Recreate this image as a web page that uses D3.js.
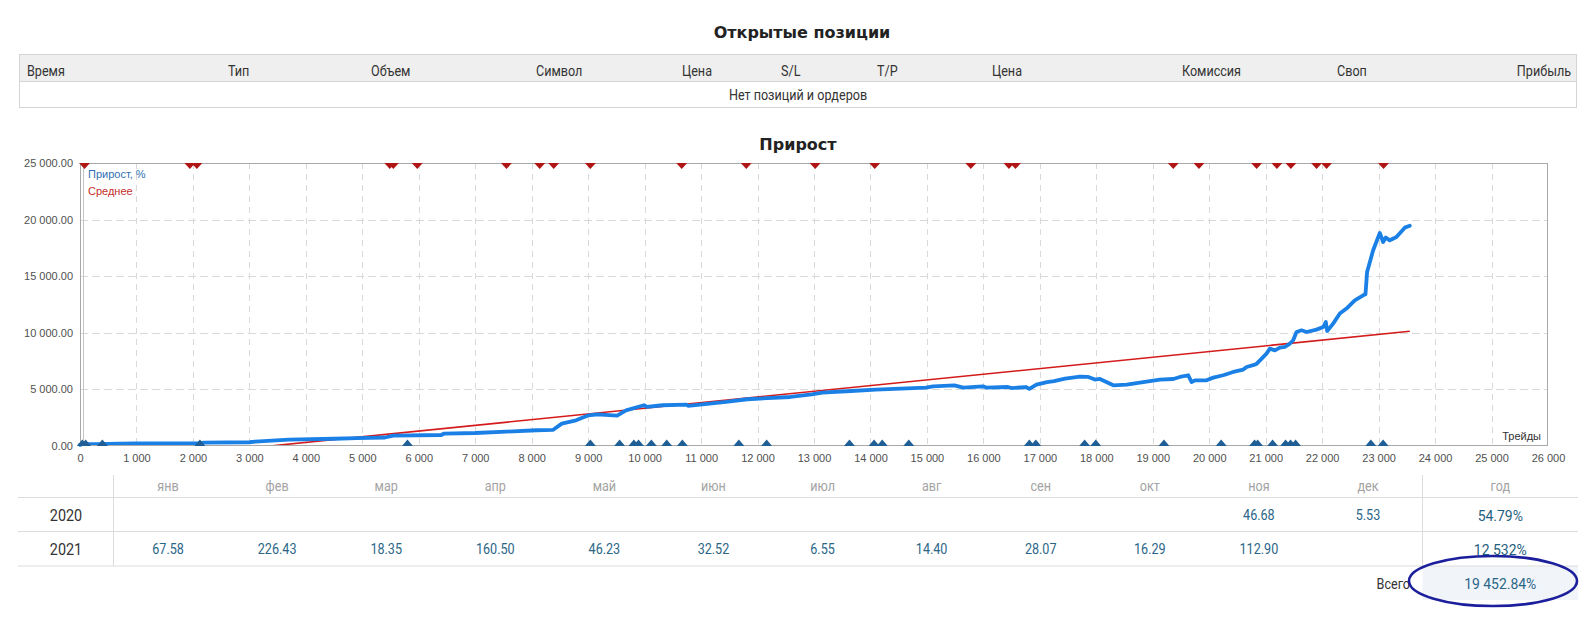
<!DOCTYPE html>
<html>
<head>
<meta charset="utf-8">
<script src="https://cdn.jsdelivr.net/npm/d3@7/dist/d3.min.js"></script>
<style>
  html, body { margin: 0; padding: 0; background: #fff; }
  svg { display: block; }
</style>
</head>
<body>
<svg id="page" width="1593" height="619"></svg>
<script>
// ---------------- DATA ----------------
const openTitle = "Открытые позиции";
const openHeaders = ["Время", "Тип", "Объем", "Символ", "Цена", "S/L", "T/P", "Цена", "Комиссия", "Своп", "Прибыль"];
const openEmpty = "Нет позиций и ордеров";

const chartTitle = "Прирост";
const seriesName = "Прирост, %";
const avgName = "Среднее";
const xAxisName = "Трейды";

const xTickValues = [0,1000,2000,3000,4000,5000,6000,7000,8000,9000,10000,11000,12000,13000,14000,15000,16000,17000,18000,19000,20000,21000,22000,23000,24000,25000,26000];
const yTickValues = [0, 5000, 10000, 15000, 20000, 25000];

const growthTrades = [0,40,300,700,1000,2100,2200,3000,3100,3700,4500,4900,5400,5550,6400,6450,7000,7550,8080,8375,8533,8786,9007,9163,9513,9671,9988,10040,10316,10745,10770,11441,11818,12579,12958,13145,13653,14096,14538,14981,15108,15487,15644,15993,16050,16435,16500,16751,16814,16940,17127,17253,17446,17711,17858,17977,18065,18301,18538,18773,19127,19363,19481,19628,19688,19747,19954,20071,20248,20425,20602,20662,20808,20838,21015,21074,21162,21251,21339,21428,21487,21546,21635,21723,21900,22018,22065,22089,22195,22313,22431,22578,22726,22767,22796,22903,23021,23080,23127,23198,23316,23463,23552];
const growthValues = [100,160,170,200,230,250,300,330,380,560,640,690,750,920,970,1100,1150,1270,1390,1420,1980,2270,2710,2800,2690,3150,3600,3450,3600,3660,3550,3890,4130,4330,4570,4720,4860,4980,5070,5160,5270,5360,5160,5270,5160,5210,5120,5210,5040,5420,5650,5740,5950,6120,6100,5870,5920,5360,5420,5600,5870,5920,6100,6250,5650,5800,5800,6040,6250,6540,6750,6980,7190,7250,8160,8600,8450,8690,8750,9050,9340,10070,10220,10070,10280,10510,10950,10160,10810,11700,12140,12870,13310,13400,15370,17290,18820,18020,18410,18170,18460,19290,19453];

const avgTrades = [0, 23552];
const avgValues = [-1690, 10130];

const withdrawTrades = [80,1946,2070,5487,5550,5973,7553,8142,8390,9039,10657,11800,13021,14076,15777,16453,16568,19363,19818,20839,21198,21446,21901,22078,23087];
const depositTrades = [40,100,396,2124,5800,9039,9557,9810,9892,10119,10391,10669,11669,12161,13628,14064,14209,14678,16814,16928,17793,17990,19198,20212,20803,20857,21122,21352,21440,21529,22862,23080];

const months = ["янв","фев","мар","апр","май","июн","июл","авг","сен","окт","ноя","дек"];
const yearLabel = "год";
const years = ["2020", "2021"];
const monthly2020 = [null,null,null,null,null,null,null,null,null,null,46.68,5.53];
const monthly2021 = [67.58,226.43,18.35,160.50,46.23,32.52,6.55,14.40,28.07,16.29,112.90,null];
const yearTotals = ["54.79%", "12 532%"];
const totalLabel = "Всего";
const totalValue = "19 452.84%";

// ---------------- DRAW ----------------
const svg = d3.select("#page");
const chartFont = "'Liberation Sans', Arial, sans-serif";
const tableFont = "Roboto, 'Noto Sans', sans-serif";
const titleFont = "'DejaVu Sans', Verdana, sans-serif";

function ntext(parent, x, y, str, anchor, size, fill, weight) {
  const g = parent.append("g").attr("transform", `translate(${x},${y}) scale(0.9,1)`);
  g.append("text")
    .attr("text-anchor", anchor)
    .attr("font-family", tableFont)
    .attr("font-size", size)
    .attr("font-weight", weight || "normal")
    .attr("fill", fill)
    .text(str);
  return g;
}

// ---- Open positions table ----
svg.append("text").attr("x", 802).attr("y", 38).attr("text-anchor", "middle")
  .attr("font-family", titleFont).attr("font-weight", "bold").attr("font-size", 16)
  .attr("fill", "#222").text(openTitle);

const tL = 19.5, tR = 1576.5, tTop = 54.5, tMid = 81.5, tBot = 107.5;
svg.append("rect").attr("x", tL).attr("y", tTop).attr("width", tR - tL).attr("height", tMid - tTop).attr("fill", "#efefef");
svg.append("rect").attr("x", tL).attr("y", tTop).attr("width", tR - tL).attr("height", tBot - tTop)
  .attr("fill", "none").attr("stroke", "#d4d4d4");
svg.append("line").attr("x1", tL).attr("x2", tR).attr("y1", tMid).attr("y2", tMid).attr("stroke", "#d4d4d4");

const headerX = [27, 228, 371, 536, 682, 781, 877, 992, 1182, 1337, 1571];
openHeaders.forEach((h, i) => {
  const anchor = i === openHeaders.length - 1 ? "end" : "start";
  ntext(svg, headerX[i], 76, h, anchor, 14, "#333");
});
ntext(svg, 798, 100, openEmpty, "middle", 14, "#333");

// ---- Growth chart ----
svg.append("text").attr("x", 798).attr("y", 150).attr("text-anchor", "middle")
  .attr("font-family", titleFont).attr("font-weight", "bold").attr("font-size", 16)
  .attr("fill", "#222").text(chartTitle);

const pL = 80, pR = 1548, pT = 163, pB = 446;
const x = d3.scaleLinear().domain([0, 26000]).range([pL, pR]);
const y = d3.scaleLinear().domain([0, 25000]).range([pB, pT]);

const chart = svg.append("g");
svg.append("defs").append("clipPath").attr("id", "plotclip")
  .append("rect").attr("x", pL).attr("y", pT).attr("width", pR - pL).attr("height", pB - pT);

// grid
chart.append("g").selectAll("line").data(xTickValues.slice(1, -1)).join("line")
  .attr("x1", d => Math.round(x(d)) + 0.5).attr("x2", d => Math.round(x(d)) + 0.5)
  .attr("y1", pT).attr("y2", pB)
  .attr("stroke", "#d9d9d9").attr("stroke-dasharray", "6,5");
chart.append("g").selectAll("line").data(yTickValues.slice(1, -1)).join("line")
  .attr("x1", pL).attr("x2", pR)
  .attr("y1", d => Math.round(y(d)) + 0.5).attr("y2", d => Math.round(y(d)) + 0.5)
  .attr("stroke", "#d9d9d9").attr("stroke-dasharray", "8,4");

// axes labels
const fmtInt = d3.format(",d");
const xAxis = d3.axisBottom(x).tickValues(xTickValues).tickSize(0).tickPadding(8)
  .tickFormat(d => fmtInt(d).replace(/,/g, " "));
const gx = chart.append("g").attr("transform", `translate(0,${pB})`).call(xAxis);
gx.select(".domain").remove();
gx.selectAll("text").attr("font-family", chartFont).attr("font-size", 11).attr("fill", "#505050");

const fmtY = d3.format(",.2f");
const yAxis = d3.axisLeft(y).tickValues(yTickValues).tickSize(0).tickPadding(7)
  .tickFormat(d => fmtY(d).replace(/,/g, " "));
const gy = chart.append("g").attr("transform", `translate(${pL},0)`).call(yAxis);
gy.select(".domain").remove();
gy.selectAll("text").attr("font-family", chartFont).attr("font-size", 11).attr("fill", "#505050");

// average line
const lineGen = d3.line().x(d => x(d[0])).y(d => y(d[1]));
chart.append("path")
  .datum(avgTrades.map((t, i) => [t, avgValues[i]]))
  .attr("clip-path", "url(#plotclip)")
  .attr("d", lineGen).attr("fill", "none").attr("stroke", "#d41a1a").attr("stroke-width", 1.6);

// growth line
chart.append("path")
  .datum(growthTrades.map((t, i) => [t, growthValues[i]]))
  .attr("d", lineGen).attr("fill", "none").attr("stroke", "#1a80e6")
  .attr("stroke-width", 3.8).attr("stroke-linejoin", "round").attr("stroke-linecap", "round");

// border
chart.append("rect").attr("x", pL + 0.5).attr("y", pT + 0.5).attr("width", pR - pL - 1).attr("height", pB - pT - 1)
  .attr("fill", "none").attr("stroke", "#a9a9a9");
chart.append("line").attr("x1", pL + 3.5).attr("x2", pL + 3.5).attr("y1", pT).attr("y2", pB)
  .attr("stroke", "#c4c4c4");

// markers
chart.append("g").selectAll("path").data(withdrawTrades).join("path")
  .attr("d", d => `M${x(d) - 5.5},${pT} L${x(d) + 5.5},${pT} L${x(d)},${pT + 6} Z`)
  .attr("fill", "#b01515");
chart.append("g").selectAll("path").data(depositTrades).join("path")
  .attr("d", d => `M${x(d) - 5.5},${pB} L${x(d) + 5.5},${pB} L${x(d)},${pB - 6.5} Z`)
  .attr("fill", "#1f5f96");

// legend
chart.append("text").attr("x", 88).attr("y", 178).attr("font-family", chartFont).attr("font-size", 11)
  .attr("fill", "#2f6fb3").text(seriesName);
chart.append("text").attr("x", 88).attr("y", 195).attr("font-family", chartFont).attr("font-size", 11)
  .attr("fill", "#c3302a").text(avgName);
chart.append("text").attr("x", 1541).attr("y", 440).attr("text-anchor", "end").attr("font-family", chartFont)
  .attr("font-size", 11).attr("fill", "#333").text(xAxisName);

// ---- Monthly table ----
const mL = 18, mR = 1578, sep1 = 113.5, sep2 = 1422.5;
const rowTop = 475, rowLines = [497.5, 531.5, 566];
const col = d3.scaleBand().domain(months).range([sep1, sep2]);
const tbl = svg.append("g");

tbl.append("rect").attr("x", sep2).attr("y", rowLines[2]).attr("width", mR - sep2).attr("height", 34).attr("fill", "#f1f4f9");
rowLines.forEach(ly => tbl.append("line").attr("x1", mL).attr("x2", mR).attr("y1", ly).attr("y2", ly).attr("stroke", "#dcdcdc"));
[sep1, sep2].forEach(sx => tbl.append("line").attr("x1", sx).attr("x2", sx).attr("y1", rowTop).attr("y2", rowLines[2]).attr("stroke", "#dcdcdc"));

months.forEach(m => ntext(tbl, col(m) + col.bandwidth() / 2, 490.5, m, "middle", 14, "#a3a3a3"));
ntext(tbl, (sep2 + mR) / 2, 490.5, yearLabel, "middle", 14, "#a3a3a3");

const rowBase = [520, 554];
[monthly2020, monthly2021].forEach((vals, r) => {
  ntext(tbl, 66, rowBase[r] + 0.5, years[r], "middle", 16, "#333");
  vals.forEach((v, i) => {
    if (v == null) return;
    ntext(tbl, col(months[i]) + col.bandwidth() / 2, rowBase[r], v.toFixed(2), "middle", 14, "#2b6688");
  });
  ntext(tbl, (sep2 + mR) / 2, rowBase[r] + 0.5, yearTotals[r], "middle", 15.5, "#1f5f80");
});

ntext(tbl, 1410, 588.5, totalLabel, "end", 14, "#333");
ntext(tbl, (sep2 + mR) / 2, 588.5, totalValue, "middle", 15.5, "#2b6688");
tbl.append("ellipse").attr("cx", 1493).attr("cy", 581).attr("rx", 84).attr("ry", 25)
  .attr("fill", "none").attr("stroke", "#1c1f9c").attr("stroke-width", 2.6);
</script>
</body>
</html>
